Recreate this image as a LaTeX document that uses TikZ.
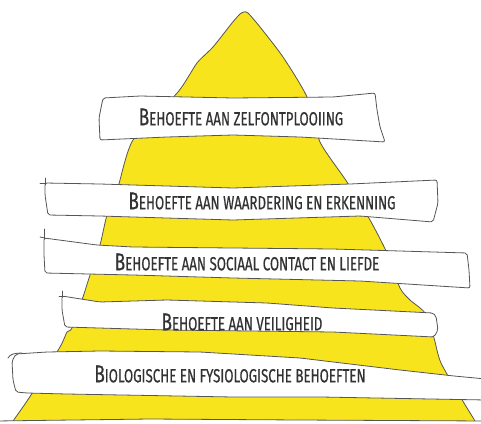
\documentclass[tikz,border=0pt]{standalone}
\usepackage{fontspec}
\usepackage{tikz}
\newfontfamily\handfont[FakeStretch=0.7,FakeBold=0.5]{Fira Sans}
\definecolor{pyryellow}{RGB}{248,228,28}
\definecolor{inkgray}{RGB}{85,85,85}
\definecolor{textgray}{RGB}{50,50,50}
\tikzset{band/.style={draw=inkgray,fill=white,line width=0.8pt,rounded corners=2pt,line join=round}}
\tikzset{flick/.style={draw=inkgray,line width=0.8pt,line cap=round}}
\tikzset{lab/.style={text=textgray,inner sep=0pt,font=\handfont}}
\newcommand\bandtext[2]{{\fontsize{24.5}{25}\selectfont #1}{\fontsize{19}{20}\selectfont #2}}

\begin{document}
\begin{tikzpicture}[x=1pt,y=-1pt]
    \useasboundingbox (0,0) rectangle (481,423);
    \clip (0,0) rectangle (481,423);

    % pyramid
    \filldraw[fill=pyryellow,draw=inkgray,line width=0.8pt] plot[smooth,tension=0.4] coordinates {(13,421) (31,395) (60,347) (67,332) (72,328) (83,297) (90,275) (100,245) (107,215) (118,187) (133,140) (178,92) (197,63) (213,47) (232,23) (240,14) (244,12) (248,13) (260,27) (283,57) (307,97) (320,142) (347,182) (370,220) (387,253) (400,288) (410,300) (425,313) (434,338) (441,363) (464,403) (475,421) (480,432)} -- (482,440) -- (8,440) -- cycle;

    % bands
    \draw[band] (-5,421) -- (150,419) -- (300,420) -- (486,421) -- (486,440) -- (-5,440) -- cycle;
    \draw[band] (103,98) -- (140,96) -- (233,98) -- (333,97) -- (375,93) -- (377,110) -- (380,127) -- (385,142) -- (300,137) -- (233,135) -- (167,137) -- (100,140) -- (99,118) -- cycle;
    \draw[band] (45,183) -- (100,184) -- (233,188) -- (350,184) -- (437,180) -- (438,203) -- (433,222) -- (360,216) -- (233,220) -- (100,216) -- (48,215) -- (45,195) -- cycle;
    \draw[band] (44,238) -- (97,245) -- (133,247) -- (333,249) -- (467,253) -- (469,270) -- (470,288) -- (360,281) -- (233,278) -- (133,275) -- (45,273) -- (44,255) -- cycle;
    \draw[band] (62,296) -- (100,302) -- (167,300) -- (267,303) -- (333,308) -- (433,313) -- (436,316) -- (438,330) -- (434,337) -- (333,332) -- (167,330) -- (65,327) -- (62,310) -- cycle;
    \draw[band] (16,354) -- (47,352) -- (100,351) -- (200,352) -- (300,358) -- (400,370) -- (454,376) -- (486,379) -- (486,400) -- (321,397) -- (233,397) -- (67,394) -- (27,393) -- (16,392) -- (13,380) -- (12,361) -- cycle;

    % loose ends
    \draw[flick] (40,183) -- (46,183);
    \draw[flick] (45,178) -- (45,185);
    \draw[flick] (40,237) -- (45,238);
    \draw[flick] (44,229) -- (44,239);
    \draw[flick] (59,296) -- (64,296);
    \draw[flick] (62,291) -- (62,297);
    \draw[flick] (8,358) .. controls (10,354) and (15,353) .. (22,353);

    \node[lab] (zelf) at (241,117) {\bandtext{B}{EHOEFTE AAN ZELFONTPLOOIING}};
    \node[lab] (waard) at (262,201) {\bandtext{B}{EHOEFTE AAN WAARDERING EN ERKENNING}};
    \node[lab] (sociaal) at (247,262) {\bandtext{B}{EHOEFTE AAN SOCIAAL CONTACT EN LIEFDE}};
    \node[lab] (veilig) at (242,322) {\bandtext{B}{EHOEFTE AAN VEILIGHEID}};
    \node[lab] (bio) at (230,374) {\bandtext{B}{IOLOGISCHE EN FYSIOLOGISCHE BEHOEFTEN}};

\end{tikzpicture}
\end{document}
